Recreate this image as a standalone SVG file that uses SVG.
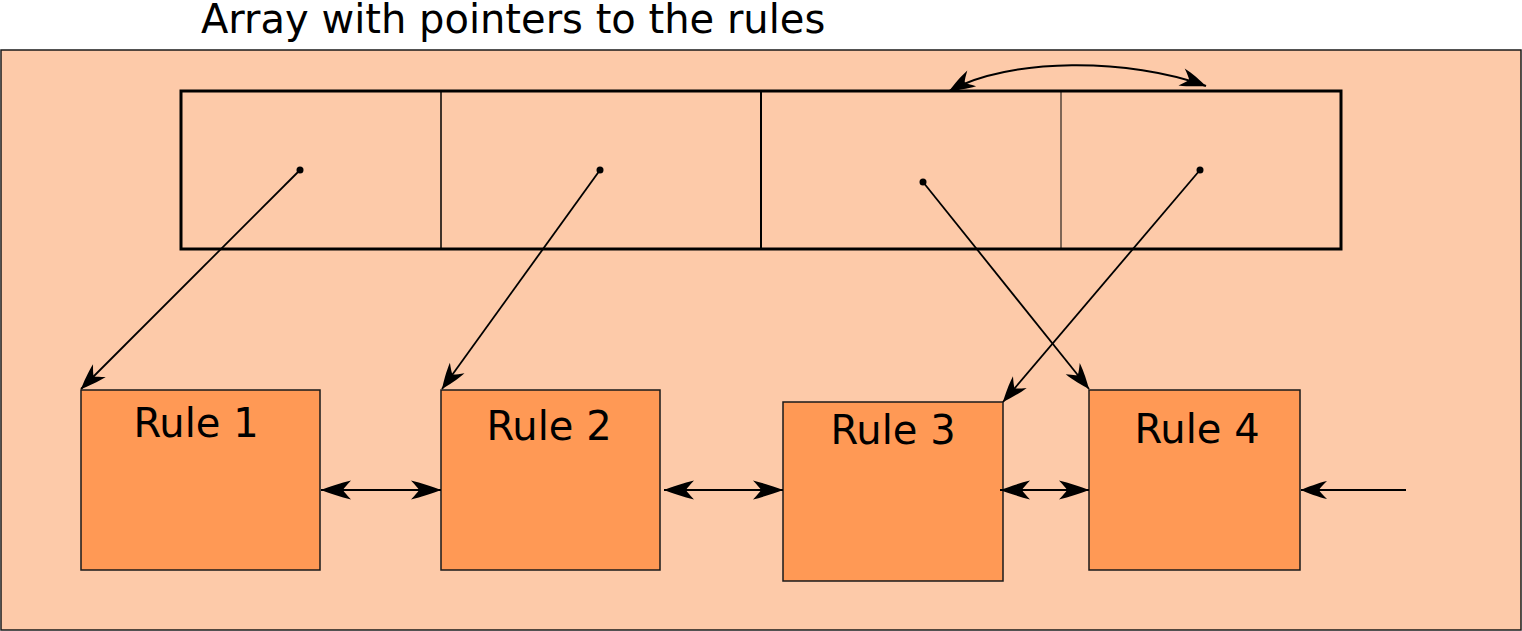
<svg xmlns="http://www.w3.org/2000/svg" width="1522" height="631" viewBox="0 0 1522 631">
<style>
.bg{fill:#fdcaa9;stroke:#1a1a1a;stroke-width:1.5}
.rule{fill:#ff9955;stroke:#1a1a1a;stroke-width:1.5}
.lbl{font-family:"DejaVu Sans",sans-serif;font-size:40px;fill:#000;text-anchor:middle}
.title{font-family:"DejaVu Sans",sans-serif;font-size:40px;fill:#000}
.ca{fill:none;stroke:#000;stroke-width:1.8;marker-end:url(#am)}
.cd{fill:none;stroke:#000;stroke-width:1.8;marker-start:url(#al);marker-end:url(#al)}
</style>
<defs>
<marker id="al" markerUnits="userSpaceOnUse" viewBox="-33 -11 35 22" refX="0" refY="0" markerWidth="35" markerHeight="22" orient="auto-start-reverse" overflow="visible">
<path d="M0,0 C-8,-3 -20,-7 -30,-9.5 C-26,-5 -23,-2 -22,0 C-23,2 -26,5 -30,9.5 C-20,7 -8,3 0,0 Z" fill="#000"/>
</marker>
<marker id="am" markerUnits="userSpaceOnUse" viewBox="-28 -11 30 22" refX="0" refY="0" markerWidth="30" markerHeight="22" orient="auto-start-reverse" overflow="visible">
<path d="M0,0 C-7,-3 -17,-7 -26,-9 C-22,-5 -19,-2 -18,0 C-19,2 -22,5 -26,9 C-17,7 -7,3 0,0 Z" fill="#000"/>
</marker>
</defs>
<text class="title" x="201" y="33">Array with pointers to the rules</text>
<rect class="bg" x="1" y="50" width="1520" height="580"/>
<g id="array">
<rect x="181" y="91" width="1160" height="158" fill="none" stroke="#000" stroke-width="3"/>
<line x1="441" y1="91" x2="441" y2="249" stroke="#000" stroke-width="1.5"/>
<line x1="761" y1="91" x2="761" y2="249" stroke="#000" stroke-width="2"/>
<line x1="1061" y1="91" x2="1061" y2="249" stroke="#000" stroke-width="1"/>
<circle cx="300" cy="170" r="3.5" fill="#000"/>
<circle cx="600" cy="170" r="3.5" fill="#000"/>
<circle cx="923" cy="182" r="3.5" fill="#000"/>
<circle cx="1200" cy="170" r="3.5" fill="#000"/>
</g>
<g id="rule1"><rect class="rule" x="81" y="390" width="239" height="180"/><text class="lbl" x="196" y="437">Rule 1</text></g>
<g id="rule2"><rect class="rule" x="441" y="390" width="219" height="180"/><text class="lbl" x="549" y="440">Rule 2</text></g>
<g id="rule3"><rect class="rule" x="783" y="402" width="220" height="179"/><text class="lbl" x="893" y="444">Rule 3</text></g>
<g id="rule4"><rect class="rule" x="1089" y="390" width="211" height="180"/><text class="lbl" x="1197" y="443">Rule 4</text></g>
<g id="connectors">
<path class="ca" d="M300,170 L81,389"/>
<path class="ca" d="M600,170 L442,389"/>
<path class="ca" d="M923,182 L1089,389"/>
<path class="ca" d="M1200,170 L1003,402"/>
<path class="cd" d="M321,490 L441,490"/>
<path class="cd" d="M664,490 L783,490"/>
<path class="cd" d="M1000,490 L1089,490"/>
<path class="ca" d="M1406,490 L1301,490"/>
<path d="M949,91 C1010,57 1130,58 1206,86" fill="none" stroke="#000" stroke-width="2" marker-start="url(#am)" marker-end="url(#am)"/>
</g>
</svg>
